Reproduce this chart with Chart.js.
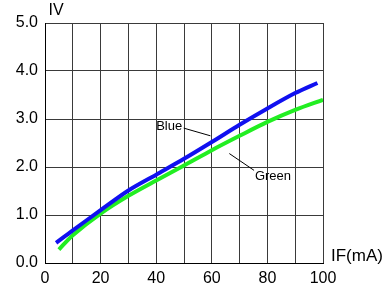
<!DOCTYPE html>
<html>
<head>
<meta charset="utf-8">
<script src="https://cdn.jsdelivr.net/npm/chart.js@4.4.1/dist/chart.umd.min.js"></script>
<style>
html,body{margin:0;padding:0;background:#fff;}
#wrap{width:387px;height:291px;position:relative;}
</style>
</head>
<body>
<div id="wrap"><canvas id="c" width="387" height="291"></canvas></div>
<script>
const blueIF = [4, 10, 20, 30, 40, 50, 60, 70, 80, 90, 98];
const blueIV = [0.42, 0.68, 1.10, 1.51, 1.84, 2.17, 2.52, 2.88, 3.22, 3.54, 3.75];
const greenIF = [5, 10, 20, 30, 40, 50, 60, 70, 80, 90, 100];
const greenIV = [0.28, 0.58, 1.03, 1.40, 1.72, 2.03, 2.35, 2.65, 2.94, 3.19, 3.40];
const xTickLabels = ['0', '20', '40', '60', '80', '100'];
const yTickLabels = ['0.0', '1.0', '2.0', '3.0', '4.0', '5.0'];

const FONT = '"Liberation Sans", Arial, sans-serif';

const annot = {
  id: 'annot',
  afterDraw(chart) {
    const ctx = chart.ctx;
    const xs = chart.scales.x, ys = chart.scales.y;
    const px = v => xs.getPixelForValue(v), py = v => ys.getPixelForValue(v);
    ctx.save();
    ctx.fillStyle = '#000';
    ctx.strokeStyle = '#000';
    ctx.lineWidth = 1;
    // axis titles
    ctx.textBaseline = 'middle';
    ctx.textAlign = 'left';
    ctx.font = '16px ' + FONT;
    ctx.fillText('IV', px(1.3), py(5) - 12);
    ctx.font = '17px ' + FONT;
    ctx.fillText('IF(mA)', px(100) + 8, py(0) - 7);
    // series labels
    ctx.font = '13px ' + FONT;
    ctx.fillText('Blue', px(40), py(2.84));
    ctx.fillText('Green', px(75.5), py(1.8));
    ctx.beginPath();
    ctx.moveTo(px(49.9), py(2.81));
    ctx.lineTo(px(59.5), py(2.65));
    ctx.moveTo(px(66.3), py(2.28));
    ctx.lineTo(px(75.2), py(1.93));
    ctx.stroke();
    ctx.restore();
  }
};

new Chart(document.getElementById('c'), {
  type: 'line',
  data: {
    datasets: [
      { label: 'Blue', data: blueIF.map((x, i) => ({x, y: blueIV[i]})),
        borderColor: '#1010f0', borderWidth: 4, pointRadius: 0, tension: 0.3, fill: false },
      { label: 'Green', data: greenIF.map((x, i) => ({x, y: greenIV[i]})),
        borderColor: '#22ee22', borderWidth: 4, pointRadius: 0, tension: 0.3, fill: false }
    ]
  },
  options: {
    responsive: false,
    animation: false,
    devicePixelRatio: 1,
    layout: { padding: { left: 0, right: 64, top: 23, bottom: 0 } },
    plugins: { legend: { display: false }, tooltip: { enabled: false } },
    scales: {
      x: {
        type: 'linear', min: 0, max: 100,
        afterFit(s) { s.height = 28; },
        border: { display: true, color: '#000', width: 1 },
        grid: { color: '#3a3a3a', lineWidth: 1, drawTicks: false },
        ticks: {
          stepSize: 10, autoSkip: false, maxRotation: 0, padding: 6,
          color: '#000', font: { family: FONT, size: 16 },
          callback: v => (v % 20 === 0 ? xTickLabels[v / 20] : '')
        }
      },
      y: {
        type: 'linear', min: 0, max: 5,
        afterFit(s) { s.width = 45; },
        border: { display: true, color: '#000', width: 1 },
        grid: { color: '#3a3a3a', lineWidth: 1, drawTicks: false },
        ticks: {
          stepSize: 1, autoSkip: false, padding: 7,
          color: '#000', font: { family: FONT, size: 16 },
          callback: v => yTickLabels[Math.round(v)]
        }
      }
    }
  },
  plugins: [annot]
});
</script>
</body>
</html>
